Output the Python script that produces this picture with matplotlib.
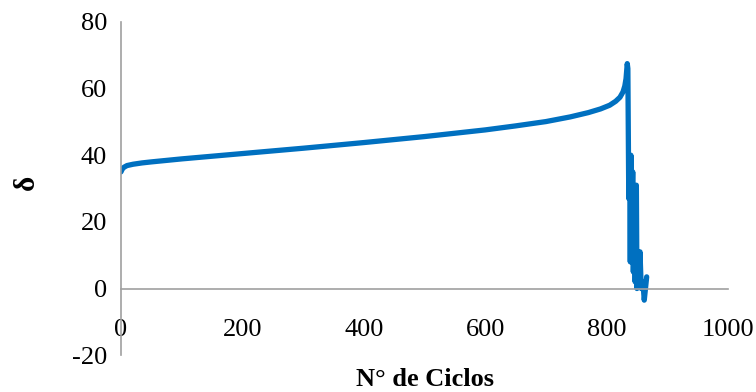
import matplotlib.pyplot as plt

plt.rcParams['font.family'] = ['Liberation Serif', 'DejaVu Serif']
plt.rcParams['axes.unicode_minus'] = False

# fatigue curve: cycle number vs delta
cycles = [0, 2, 5, 10, 20, 35, 50, 100, 200, 300, 400, 500, 600, 650, 700,
          740, 770, 790, 805, 815, 822, 827, 830, 832, 834, 835, 836, 836.5,
          838, 839, 840, 841, 843, 844, 846, 847, 849, 850, 852, 853, 855,
          857, 859, 861, 862, 864, 866]
delta = [35, 35.8, 36.4, 36.9, 37.3, 37.7, 38.0, 38.9, 40.5, 42.1, 43.8, 45.6,
         47.6, 48.8, 50.1, 51.5, 52.8, 53.9, 55.0, 56.2, 57.4, 59.0, 60.8,
         63.0, 67.5, 66, 40, 27, 38, 8, 40, 10, 35, 5, 28, 2, 31, 0, 10, 1,
         11, 0, 2, -1, -3.5, 0, 3.5]

xticks = [0, 200, 400, 600, 800, 1000]
yticks = [-20, 0, 20, 40, 60, 80]

fig = plt.figure(figsize=(7.56, 3.92), dpi=100)
ax = fig.add_axes([0.160, 0.094, 0.803, 0.850])

ax.plot(cycles, delta, color='#0070C0', lw=3.8, solid_joinstyle='round',
        solid_capstyle='round')

ax.set_xlim(0, 1000)
ax.set_ylim(-20, 80)
ax.set_xticks(xticks)
ax.set_yticks(yticks)

for s in ['top', 'right']:
    ax.spines[s].set_visible(False)
ax.spines['bottom'].set_position(('data', 0))
for s in ['left', 'bottom']:
    ax.spines[s].set_color('#A0A0A0')
    ax.spines[s].set_linewidth(1.2)

ax.tick_params(axis='both', length=0, labelsize=19)
ax.tick_params(axis='x', pad=22)
ax.tick_params(axis='y', pad=10)

fig.text(424.5 / 756, 1 - 380 / 392, 'N° de Ciclos', ha='center', va='center',
         fontsize=19, fontweight='bold')
fig.text(26 / 756, 1 - 182 / 392, 'δ', ha='center', va='center',
         rotation=90, fontsize=21, fontweight='bold')

fig.savefig('out.png', dpi=100)
